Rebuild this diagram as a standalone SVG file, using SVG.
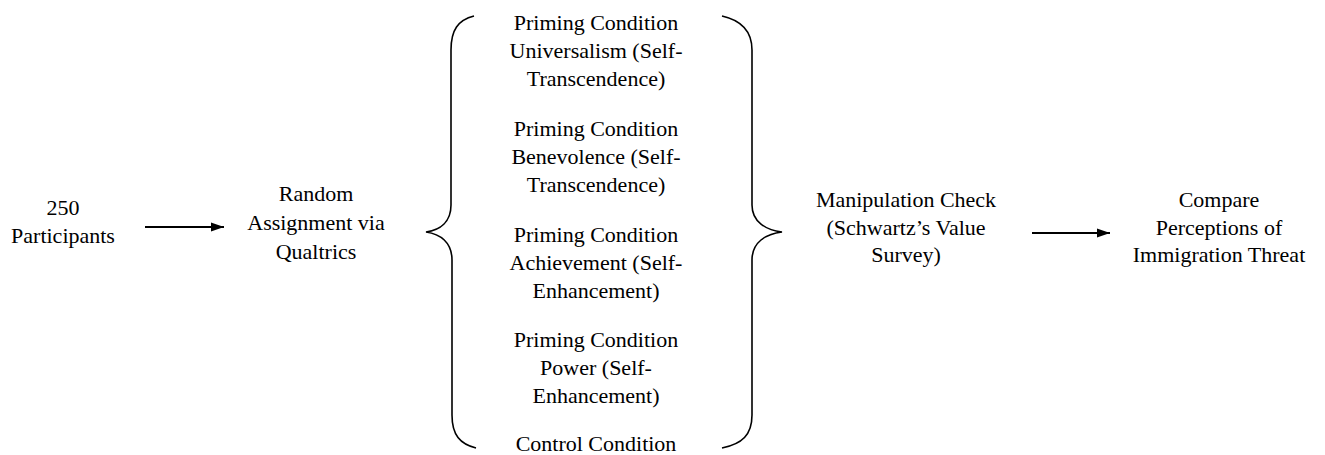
<svg xmlns="http://www.w3.org/2000/svg" width="1325" height="455" viewBox="0 0 1325 455">
<style>
text{font-family:"Liberation Serif","Times New Roman",serif;font-size:22px;fill:#000;text-anchor:middle}
.c{stroke:#000;stroke-width:2;fill:none}
.b{stroke:#000;stroke-width:1.6;fill:none}
</style>
<defs>
<marker id="ah" markerWidth="13" markerHeight="10" refX="13" refY="5" orient="auto" markerUnits="userSpaceOnUse">
<path d="M0,0.5 L13,5 L0,9.5 Z" fill="#000"/>
</marker>
</defs>
<rect width="1325" height="455" fill="#fff"/>
<g id="connectors">
<line class="c" x1="145" y1="227" x2="224" y2="227" marker-end="url(#ah)"/>
<line class="c" x1="1032" y1="233" x2="1110" y2="233" marker-end="url(#ah)"/>
<path id="left-brace" class="b" d="M474,16 C458,20 451,30 451,50 L451,205 C451,222 440,230 426,232 C440,234 452,242 452,260 L452,415 C452,435 460,444 476,448"/>
<path id="right-brace" class="b" d="M722,16 C740,20 752,30 752,50 L752,205 C752,222 766,230 782,232 C766,234 752,242 752,260 L752,415 C752,435 742,444 722,448"/>
</g>
<g id="participants">
<text x="63" y="215">250</text>
<text x="63" y="243">Participants</text>
</g>
<g id="random">
<text x="316" y="201">Random</text>
<text x="316" y="230">Assignment via</text>
<text x="316" y="259">Qualtrics</text>
</g>
<g id="universalism">
<text x="596" y="30">Priming Condition</text>
<text x="596" y="58">Universalism (Self-</text>
<text x="596" y="86">Transcendence)</text>
</g>
<g id="benevolence">
<text x="596" y="136">Priming Condition</text>
<text x="596" y="164">Benevolence (Self-</text>
<text x="596" y="192">Transcendence)</text>
</g>
<g id="achievement">
<text x="596" y="242">Priming Condition</text>
<text x="596" y="270">Achievement (Self-</text>
<text x="596" y="298">Enhancement)</text>
</g>
<g id="power">
<text x="596" y="347">Priming Condition</text>
<text x="596" y="375">Power (Self-</text>
<text x="596" y="403">Enhancement)</text>
</g>
<g id="control">
<text x="596" y="451">Control Condition</text>
</g>
<g id="manipulation">
<text x="906" y="207">Manipulation Check</text>
<text x="906" y="235">(Schwartz’s Value</text>
<text x="906" y="262">Survey)</text>
</g>
<g id="compare">
<text x="1219" y="207">Compare</text>
<text x="1219" y="235">Perceptions of</text>
<text x="1219" y="262">Immigration Threat</text>
</g>
</svg>
